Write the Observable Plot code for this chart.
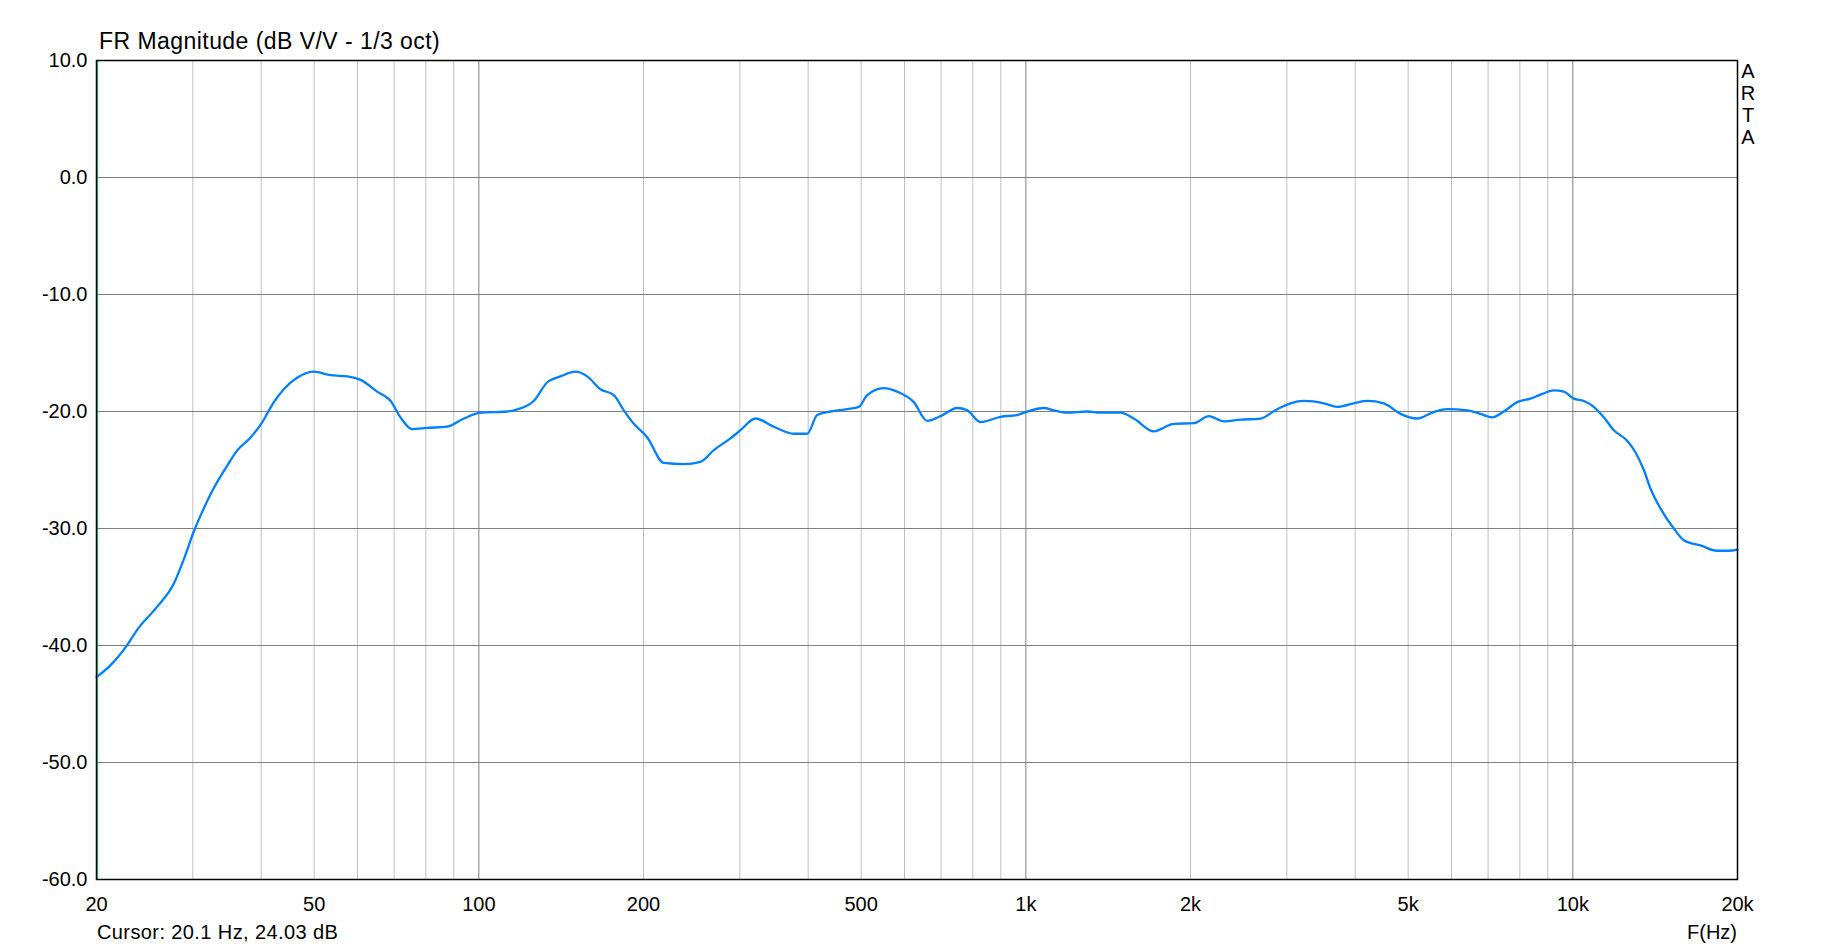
<!DOCTYPE html>
<html><head><meta charset="utf-8">
<script src="https://cdn.jsdelivr.net/npm/d3@7"></script>
<script src="https://cdn.jsdelivr.net/npm/@observablehq/plot@0.6"></script>
<style>
html,body{margin:0;padding:0;background:#fff;}
#wrap{position:relative;width:1833px;height:951px;font-family:"Liberation Sans",Arial,sans-serif;color:#000;overflow:hidden;}
.lbl{position:absolute;white-space:nowrap;}
</style></head><body><div id="wrap"></div>
<script>
// ---- data ----
const freqHz = [20, 21.2, 22.8, 23.7, 25.8, 27.7, 28.9, 30.1, 31.4, 32.8, 34.7, 36.2, 38.3, 40.2, 42.2, 44.0, 46.6, 49.9,
  53.6, 57.5, 60.8, 65.2, 69.0, 71.9, 75.5, 80.5, 87.5, 93.9, 100.7, 112.7, 118, 126, 133.4, 141, 150.2, 157.8, 166.9, 176.5,
  184.1, 192, 203.1, 217.8, 236.9, 254.3, 268.9, 288.4, 300.8, 320.5, 346.2, 376.6, 398.4, 415.5, 439.5, 471.5, 495.1, 512.9,
  549.9, 581.9, 624, 660.1, 698.3, 749.1, 781.3, 826.3, 899.2, 964.4, 1000, 1079, 1125, 1190, 1294, 1369, 1489, 1575, 1714,
  1864, 2028, 2161, 2301, 2469, 2686, 2881, 3047, 3223, 3506, 3709, 3978, 4208, 4512, 4841, 5193, 5570, 5894, 6410, 6778,
  7122, 7478, 7912, 8368, 8790, 9230, 9628, 10042, 10472, 10922, 11392, 11884, 12572, 13020, 13484, 13870, 14466, 15296,
  15952, 17114, 18364, 19282, 20000];
const magDb = [-42.7, -41.7, -39.9, -38.7, -36.7, -34.7, -32.6, -30.3, -28.3, -26.5, -24.6, -23.3, -22.2, -20.9, -19.2, -18.1, -17.1, -16.6,
  -16.9, -17.0, -17.3, -18.3, -19.1, -20.5, -21.5, -21.4, -21.3, -20.6, -20.1, -20.0, -19.8, -19.1, -17.5, -17.0, -16.6, -17.0, -18.1, -18.6,
  -19.9, -21.05, -22.2, -24.4, -24.5, -24.3, -23.3, -22.3, -21.6, -20.6, -21.3, -21.9, -21.9, -20.3, -20.0, -19.8, -19.6, -18.6,
  -18.0, -18.3, -19.2, -20.8, -20.4, -19.7, -19.9, -20.9, -20.45, -20.3, -20.05, -19.7, -19.9, -20.1, -20.0, -20.1, -20.1, -20.6, -21.7,
  -21.05, -21.0, -20.4, -20.85, -20.7, -20.6, -19.8, -19.3, -19.1, -19.3, -19.6, -19.3, -19.1, -19.3, -20.2, -20.6, -20.05, -19.8, -19.9, -20.2,
  -20.5, -20.0, -19.2, -18.9, -18.5, -18.2, -18.3, -18.9, -19.1, -19.6, -20.5, -21.6, -22.5, -23.5, -25.0, -26.6, -28.3, -30.0,
  -31.0, -31.45, -31.9, -31.9, -31.8];

const xTicks = [20, 50, 100, 200, 500, 1000, 2000, 5000, 10000, 20000];
const xTickLabels = ["20", "50", "100", "200", "500", "1k", "2k", "5k", "10k", "20k"];
const yTicks = [-60, -50, -40, -30, -20, -10, 0, 10];
const minorFreqs = [30, 40, 50, 60, 70, 80, 90, 200, 300, 400, 500, 600, 700, 800, 900,
  2000, 3000, 4000, 5000, 6000, 7000, 8000, 9000];
const majorFreqs = [100, 1000, 10000];
const cursorHz = 20.1;
const titleText = "FR Magnitude (dB V/V - 1/3 oct)";
const cursorText = "Cursor: 20.1 Hz, 24.03 dB";
const xAxisTitle = "F(Hz)";
const brandLetters = ["A", "R", "T", "A"];

// ---- chart ----
const data = freqHz.map((f, i) => ({f, db: magDb[i]}));
const xTickData = xTicks.map((v, i) => ({v, label: xTickLabels[i]}));
const FONT = '"Liberation Sans", Arial, sans-serif';

const chart = Plot.plot({
  width: 1833, height: 951,
  marginTop: 60, marginRight: 96, marginBottom: 72, marginLeft: 96,
  style: {fontFamily: FONT, fontSize: "20px", color: "#000", background: "#fff", overflow: "visible"},
  x: {type: "log", domain: [20, 20000], axis: null},
  y: {domain: [-60, 10]},
  marks: [
    Plot.ruleX(minorFreqs, {stroke: "#c0c0c0", strokeWidth: 1}),
    Plot.ruleX(majorFreqs, {stroke: "#808080", strokeWidth: 1}),
    Plot.ruleY(yTicks.filter(v => v > -60 && v < 10), {stroke: "#808080", strokeWidth: 1}),
    Plot.ruleX([cursorHz], {stroke: "#00c070", strokeWidth: 1}),
    Plot.line(data, {x: "f", y: "db", stroke: "#0080ff", strokeWidth: 2.3, curve: "monotone-x"}),
    Plot.frame({stroke: "#000", strokeWidth: 1.5}),
    Plot.text(xTickData, {x: "v", text: "label", frameAnchor: "bottom", lineAnchor: "top", dy: 17, fontSize: 20, fill: "#000"}),
    Plot.axisY({ticks: yTicks, tickFormat: d => d.toFixed(1), tickSize: 0, tickPadding: 9, label: null})
  ]
});

const wrap = document.getElementById("wrap");
wrap.appendChild(chart);

function addLabel(text, css) {
  const d = document.createElement("div");
  d.className = "lbl";
  d.textContent = text;
  Object.assign(d.style, css);
  wrap.appendChild(d);
  return d;
}
addLabel(titleText, {left: "99px", top: "30px", fontSize: "23px", lineHeight: "23px", letterSpacing: "0.45px"});
addLabel(cursorText, {left: "97px", top: "922px", fontSize: "20px", lineHeight: "20px", letterSpacing: "0.4px"});
addLabel(xAxisTitle, {right: "96px", top: "922px", fontSize: "20px", lineHeight: "20px"});
const brand = addLabel("", {left: "1738px", top: "60px", width: "20px", fontSize: "20px", lineHeight: "22px", textAlign: "center", whiteSpace: "normal"});
brand.innerHTML = brandLetters.join("<br>");
</script>
</body></html>
